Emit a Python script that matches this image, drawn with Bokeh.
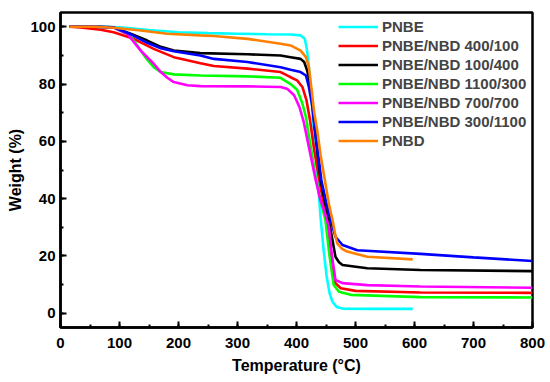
from bokeh.plotting import figure
from bokeh.models import Range1d, FixedTicker, Legend, LegendItem
from bokeh.embed import file_html
from bokeh.resources import INLINE

series_names = ["PNBE", "PNBE/NBD 400/100", "PNBE/NBD 100/400", "PNBE/NBD 1100/300",
                "PNBE/NBD 700/700", "PNBE/NBD 300/1100", "PNBD"]
series_colors = ["#00FFFF", "#FF0000", "#000000", "#00FF00", "#FF00FF", "#0000FF", "#FF8000"]

pnbe_t = [15, 60, 100, 150, 200, 250, 300, 350, 390, 407, 414, 417, 420, 424, 428, 432, 436, 441, 446, 451, 456, 461, 468, 478, 520, 597]
pnbe_w = [100, 100, 99.8, 98.9, 98.1, 97.8, 97.6, 97.4, 97.3, 97.0, 95.8, 92.9, 88.3, 79, 67, 57, 46.5, 33, 22, 13, 7, 4, 2.2, 1.6, 1.5, 1.5]

r400_t = [15, 34, 68, 90, 124, 158, 192, 215, 237, 260, 317, 373, 390, 401, 410, 417, 423, 430, 440, 446, 452, 458, 466, 475, 500, 610, 800]
r400_w = [100, 99.8, 99, 98.1, 95.8, 92.3, 89.4, 88.3, 87.3, 86.3, 85.4, 84.2, 82.4, 81.3, 79, 74.3, 67.3, 57, 45, 38, 32.5, 22, 10.5, 8.7, 7.8, 7.2, 7.1]

r100_t = [15, 60, 90, 120, 147, 170, 192, 237, 317, 373, 390, 407, 413, 418, 424, 430, 436, 441, 448, 455, 461, 466, 472, 478, 520, 610, 800]
r100_w = [100, 100, 99.8, 97.5, 95.2, 93, 91.7, 90.8, 90.4, 90, 89.4, 88.8, 87.7, 84.8, 79, 67, 55, 46.5, 39, 32.5, 25.5, 19.7, 17.8, 16.8, 15.7, 15.1, 14.7]

r1100_t = [15, 60, 90, 113, 125, 136, 147, 158, 170, 192, 237, 317, 373, 390, 401, 410, 416, 420, 426, 432, 440, 449, 456, 463, 472, 492, 610, 800]
r1100_w = [100, 100, 99.7, 97.6, 95, 91.7, 88.5, 85.9, 84.2, 83.4, 83.0, 82.7, 82.2, 80, 78, 73.2, 68.5, 63, 56, 48, 40, 32.5, 20, 9.9, 7.5, 6.4, 5.6, 5.5]

r700_t = [15, 60, 90, 113, 136, 158, 170, 181, 192, 215, 237, 317, 373, 384, 396, 405, 412, 418, 425, 432, 440, 448, 455, 460, 466, 478, 520, 610, 800]
r700_w = [100, 100, 99.7, 97.6, 91.7, 87.1, 84.2, 82.2, 80.7, 79.6, 79.3, 79.2, 79, 78.4, 76.1, 72, 67, 61, 54, 47, 40, 35, 30, 20, 11.6, 10.5, 9.8, 9.3, 8.9]

r300_t = [15, 60, 90, 120, 147, 170, 192, 237, 260, 317, 373, 390, 407, 416, 421, 427, 431, 437, 442, 450, 458, 466, 478, 503, 610, 700, 800]
r300_w = [100, 100, 99.8, 97.3, 94.4, 92.5, 91.5, 90, 88.8, 87.7, 85.9, 85, 84.2, 83, 79, 72, 64, 55, 46.5, 39, 32.5, 26.7, 23.8, 22, 20.7, 19.5, 18.2]

pnbd_t = [15, 60, 90, 136, 181, 237, 260, 317, 373, 390, 407, 416, 421, 425, 430, 435, 441, 448, 455, 461, 466, 469, 477, 486, 520, 597]
pnbd_w = [100, 100, 99.7, 98.7, 97.6, 97.0, 96.8, 95.8, 94.1, 93.5, 91.7, 89.4, 85.9, 79, 70, 64, 55, 46.5, 38, 32.5, 27, 24.4, 22.5, 21.5, 19.7, 18.8]

x_ticks = [0, 100, 200, 300, 400, 500, 600, 700, 800]
y_ticks = [0, 20, 40, 60, 80, 100]

all_t = [pnbe_t, r400_t, r100_t, r1100_t, r700_t, r300_t, pnbd_t]
all_w = [pnbe_w, r400_w, r100_w, r1100_w, r700_w, r300_w, pnbd_w]

FONT = "Liberation Sans"

p = figure(width=550, height=382, output_backend="svg", toolbar_location=None,
           x_range=Range1d(0, 800), y_range=Range1d(-5, 105),
           min_border_left=60, min_border_right=18, min_border_top=12, min_border_bottom=55)
p.grid.visible = False
p.outline_line_color = "black"
p.outline_line_width = 2.5
p.background_fill_color = "white"
p.border_fill_color = "white"

renderers = []
for t, w, c in zip(all_t, all_w, series_colors):
    r = p.line(t, w, line_color=c, line_width=2.6)
    renderers.append(r)

for ax in (p.xaxis[0], p.yaxis[0]):
    ax.axis_line_width = 2.5
    ax.axis_line_color = "black"
    ax.major_tick_in = 6
    ax.major_tick_out = 0
    ax.minor_tick_in = 3
    ax.minor_tick_out = 0
    ax.major_tick_line_width = 2
    ax.minor_tick_line_width = 2
    ax.major_label_text_font = FONT
    ax.major_label_text_font_style = "bold"
    ax.major_label_text_font_size = "15px"
    ax.major_label_text_color = "black"
    ax.axis_label_text_font = FONT
    ax.axis_label_text_font_style = "bold"
    ax.axis_label_text_font_size = "16px"
    ax.axis_label_text_color = "black"

p.xaxis.ticker = FixedTicker(ticks=x_ticks, minor_ticks=list(range(0, 801, 50)))
p.yaxis.ticker = FixedTicker(ticks=y_ticks, minor_ticks=list(range(0, 101, 10)))
p.xaxis.axis_label = "Temperature (°C)"
p.yaxis.axis_label = "Weight (%)"
p.xaxis.major_label_standoff = 10
p.xaxis.axis_label_standoff = 6
p.yaxis.major_label_standoff = 5
p.yaxis.axis_label_standoff = 3

items = [LegendItem(label=n, renderers=[r]) for n, r in zip(series_names, renderers)]
legend = Legend(items=items, location=(278, 177))
legend.border_line_color = None
legend.background_fill_alpha = 0
legend.label_text_font = FONT
legend.label_text_font_style = "bold"
legend.label_text_font_size = "15px"
legend.glyph_width = 40
legend.glyph_height = 19
legend.label_height = 19
legend.spacing = 0
legend.padding = 0
legend.margin = 0
legend.label_standoff = 4
p.add_layout(legend, "center")

open("out.html", "w").write(file_html(p, INLINE))
